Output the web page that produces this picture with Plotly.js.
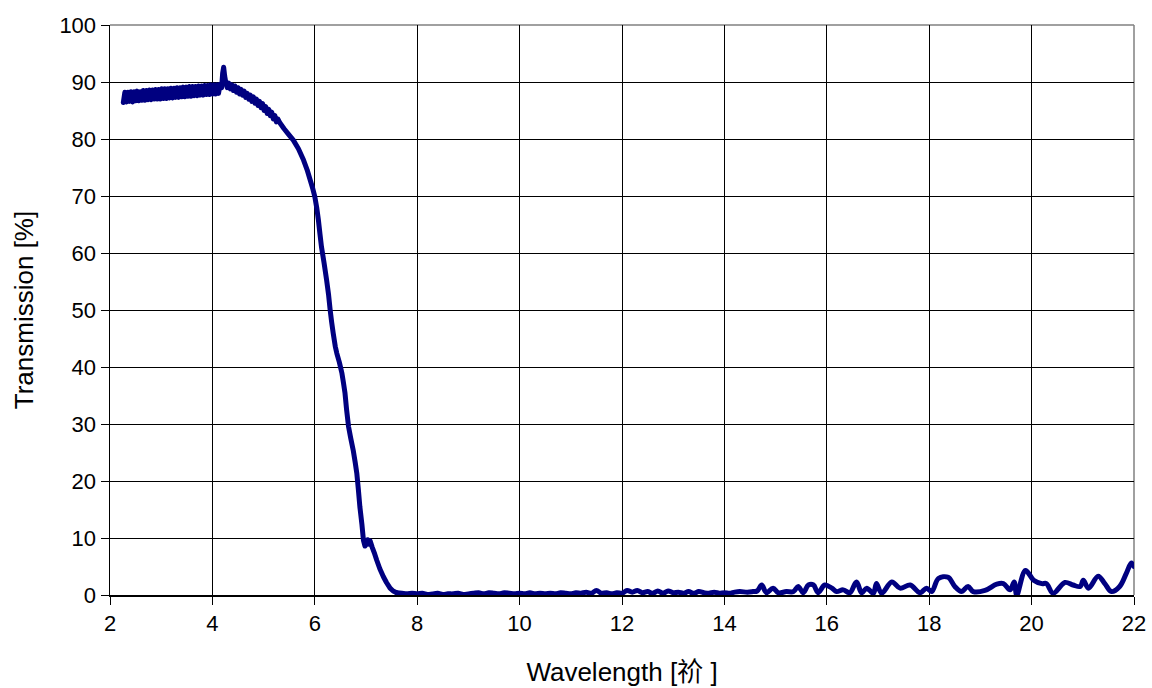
<!DOCTYPE html>
<html>
<head>
<meta charset="utf-8">
<script src="https://cdn.plot.ly/plotly-3.0.1.min.js"></script>
<style>
  html, body { margin: 0; padding: 0; background: #ffffff; }
  #chart { width: 1152px; height: 688px; }
  #chart path.js-line { stroke-linejoin: round; stroke-linecap: round; }
</style>
</head>
<body>
<div id="chart"></div>
<script>
// Wavelength samples (µm)
const wavelength = [
  // plateau
  2.26, 2.29, 2.32, 2.35, 2.38, 2.41, 2.44, 2.47, 2.50, 2.53, 2.56, 2.59, 2.62,
  2.65, 2.68, 2.71, 2.74, 2.77, 2.80, 2.83, 2.86, 2.89, 2.92, 2.95, 2.98, 3.01,
  3.04, 3.07, 3.10, 3.13, 3.16, 3.19, 3.22, 3.25, 3.28, 3.31, 3.34, 3.37, 3.40,
  3.43, 3.46, 3.49, 3.52, 3.55, 3.58, 3.61, 3.64, 3.67, 3.70, 3.73, 3.76, 3.79,
  3.82, 3.85, 3.88, 3.91, 3.94, 3.97, 4.00, 4.03, 4.06, 4.09, 4.12, 4.15, 4.18,
  // peak
  4.20, 4.22, 4.24,
  // roll-off
  4.26, 4.29, 4.32, 4.35, 4.38, 4.41, 4.44, 4.47, 4.50, 4.53, 4.56, 4.59,
  4.62, 4.65, 4.68, 4.71, 4.74, 4.77, 4.80, 4.83, 4.86, 4.89, 4.92, 4.95,
  4.98, 5.01, 5.04, 5.07, 5.10, 5.13, 5.16, 5.19, 5.22, 5.25, 5.28, 5.32,
  // absorption edge
  5.40, 5.48, 5.58, 5.68, 5.78, 5.85, 5.91, 5.96, 6.00, 6.04,
  6.07, 6.10, 6.13, 6.18, 6.23, 6.27, 6.30, 6.33, 6.36, 6.40,
  6.43, 6.48, 6.53, 6.56, 6.59, 6.62, 6.66, 6.70, 6.75, 6.79,
  6.82, 6.85, 6.88, 6.92, 6.95, 6.98, 7.00, 7.03, 7.06, 7.08,
  7.12, 7.17, 7.21, 7.27, 7.34, 7.40, 7.47, 7.53, 7.60,
  // blocked region
  7.70, 7.80, 7.90, 8.00, 8.10, 8.20, 8.30, 8.40, 8.50, 8.60,
  8.70, 8.80, 8.90, 9.00, 9.10, 9.20, 9.30, 9.40, 9.50, 9.60,
  9.70, 9.80, 9.90, 10.00, 10.10, 10.20, 10.30, 10.40, 10.50, 10.60,
  10.70, 10.80, 10.90, 11.00, 11.10, 11.20, 11.30, 11.40, 11.50, 11.60,
  11.70, 11.80, 11.90, 12.00, 12.10, 12.20, 12.30, 12.40, 12.50, 12.60,
  12.70, 12.80, 12.90, 13.00, 13.10, 13.20, 13.30, 13.40, 13.50, 13.60,
  13.70, 13.80, 13.90, 14.00, 14.10, 14.20,
  14.30, 14.45, 14.56, 14.64, 14.73, 14.82, 14.95, 15.05, 15.21, 15.35,
  15.44, 15.54, 15.64, 15.74, 15.83, 15.96, 16.10, 16.19, 16.32, 16.45,
  16.58, 16.68, 16.78, 16.91, 16.97, 17.07, 17.27, 17.43, 17.63, 17.82,
  17.95, 18.05, 18.18, 18.37, 18.50, 18.63, 18.76, 18.86, 19.09, 19.32,
  19.45, 19.58, 19.66, 19.71, 19.88, 20.04, 20.20, 20.29, 20.42, 20.65,
  20.81, 20.95, 21.01, 21.11, 21.30, 21.43, 21.56, 21.72, 21.85, 21.95, 22.00
];

// Measured transmission (%)
const transmission = [
  // plateau
  86.4, 88.2, 86.5, 88.2, 86.6, 88.3, 86.5, 88.3, 86.7, 88.4, 86.7, 88.3, 86.8,
  88.5, 86.8, 88.5, 86.9, 88.6, 86.9, 88.6, 87.0, 88.7, 87.0, 88.7, 87.0, 88.8,
  87.1, 88.8, 87.1, 88.8, 87.2, 88.9, 87.2, 88.9, 87.3, 89.0, 87.3, 89.0, 87.4,
  89.1, 87.4, 89.1, 87.5, 89.2, 87.5, 89.2, 87.6, 89.2, 87.6, 89.3, 87.7, 89.3,
  87.7, 89.4, 87.8, 89.4, 87.8, 89.5, 87.9, 89.5, 87.9, 89.5, 88.0, 89.6, 89.0,
  // peak
  91.5, 92.6, 91.0,
  // roll-off
  90.0, 89.0, 89.8, 88.8, 89.5, 88.5, 89.3, 88.2, 89.0, 87.9, 88.7, 87.7,
  88.4, 87.3, 88.0, 87.0, 87.7, 86.6, 87.4, 86.3, 87.0, 85.9, 86.6, 85.5,
  86.2, 85.0, 85.7, 84.5, 85.2, 84.1, 84.7, 83.5, 84.1, 83.0, 83.5, 82.8,
  // absorption edge
  81.8, 80.9, 79.8, 78.3, 76.3, 74.6, 72.8, 71.3, 69.9, 67.8,
  65.8, 63.4, 61.1, 58.3, 55.3, 52.6, 50.0, 47.8, 45.9, 43.6,
  42.4, 40.8, 38.9, 37.2, 35.4, 32.6, 29.5, 27.6, 25.4, 23.2,
  21.4, 18.6, 15.5, 12.4, 9.6, 8.6, 8.8, 9.7, 8.9, 9.5,
  8.4, 7.2, 6.1, 4.6, 3.2, 2.2, 1.2, 0.7, 0.4,
  // blocked region
  0.3, 0.2, 0.3, 0.2, 0.3, 0.1, 0.2, 0.3, 0.1, 0.2,
  0.2, 0.3, 0.1, 0.2, 0.3, 0.4, 0.2, 0.4, 0.3, 0.2,
  0.4, 0.3, 0.2, 0.3, 0.2, 0.4, 0.2, 0.3, 0.2, 0.3,
  0.2, 0.4, 0.3, 0.2, 0.4, 0.3, 0.5, 0.3, 0.8, 0.3,
  0.4, 0.2, 0.4, 0.3, 0.8, 0.5, 0.8, 0.4, 0.6, 0.3,
  0.7, 0.3, 0.7, 0.4, 0.5, 0.3, 0.6, 0.3, 0.6, 0.4,
  0.3, 0.5, 0.3, 0.4, 0.3, 0.5,
  0.6, 0.5, 0.6, 0.7, 1.75, 0.4, 1.2, 0.4, 0.6, 0.6,
  1.5, 0.4, 1.75, 1.75, 0.4, 1.75, 1.2, 0.6, 0.9, 0.4,
  2.3, 0.4, 1.2, 0.3, 2.0, 0.3, 2.3, 1.2, 1.75, 0.4,
  1.2, 0.6, 2.9, 3.1, 1.5, 0.6, 1.5, 0.6, 0.8, 1.9,
  2.0, 0.9, 2.3, 0.0, 4.3, 2.6, 2.0, 2.0, 0.3, 2.2,
  1.75, 1.5, 2.6, 1.2, 3.3, 2.0, 0.6, 1.5, 3.8, 5.6, 5.0
];

// Axis tick values
const xTicks = [2, 4, 6, 8, 10, 12, 14, 16, 18, 20, 22];
const yTicks = [0, 10, 20, 30, 40, 50, 60, 70, 80, 90, 100];

const font = 'Arial, "Liberation Sans", "Noto Sans CJK SC", sans-serif';
const lineStyle = { color: '#000080', width: 5, simplify: false };

// Plateau and absorption edge are drawn point to point;
// the blocked region (from 7.6 µm on) is drawn as a smoothed curve.
const split = wavelength.findIndex(w => w >= 7.6);

const edge = {
  x: wavelength.slice(0, split + 1),
  y: transmission.slice(0, split + 1),
  type: 'scatter',
  mode: 'lines',
  line: Object.assign({}, lineStyle, { shape: 'linear' }),
  hoverinfo: 'x+y'
};

const tail = {
  x: wavelength.slice(split),
  y: transmission.slice(split),
  type: 'scatter',
  mode: 'lines',
  line: Object.assign({}, lineStyle, { shape: 'spline', smoothing: 1 }),
  hoverinfo: 'x+y'
};

const axisCommon = {
  ticks: 'outside',
  ticklen: 8,
  tickwidth: 1,
  tickcolor: '#000000',
  showgrid: true,
  gridcolor: '#000000',
  gridwidth: 1,
  zeroline: false,
  showline: true,
  linecolor: '#000000',
  linewidth: 1.5,
  tickfont: { family: font, size: 22, color: '#000000' }
};

const layout = {
  width: 1152,
  height: 688,
  margin: { l: 110, r: 18, t: 25, b: 93 },
  paper_bgcolor: '#ffffff',
  plot_bgcolor: '#ffffff',
  showlegend: false,
  font: { family: font, size: 22, color: '#000000' },
  xaxis: Object.assign({}, axisCommon, {
    range: [2, 22],
    tickvals: xTicks,
    ticktext: xTicks.map(String),
    title: { text: 'Wavelength [祄 ]', font: { family: font, size: 26, color: '#000000' }, standoff: 28 }
  }),
  yaxis: Object.assign({}, axisCommon, {
    range: [0, 100],
    tickvals: yTicks,
    ticktext: yTicks.map(String),
    title: { text: 'Transmission [%]', font: { family: font, size: 26, color: '#000000' }, standoff: 18 }
  }),
  shapes: [
    // grey frame along the top and right edges of the plot area
    { type: 'line', xref: 'paper', yref: 'paper', x0: 0, x1: 1, y0: 1, y1: 1, line: { color: '#808080', width: 1.5 }, layer: 'below' },
    { type: 'line', xref: 'paper', yref: 'paper', x0: 1, x1: 1, y0: 0, y1: 1, line: { color: '#808080', width: 1.5 }, layer: 'below' }
  ]
};

Plotly.newPlot('chart', [edge, tail], layout, { displayModeBar: false, staticPlot: true });
</script>
</body>
</html>
